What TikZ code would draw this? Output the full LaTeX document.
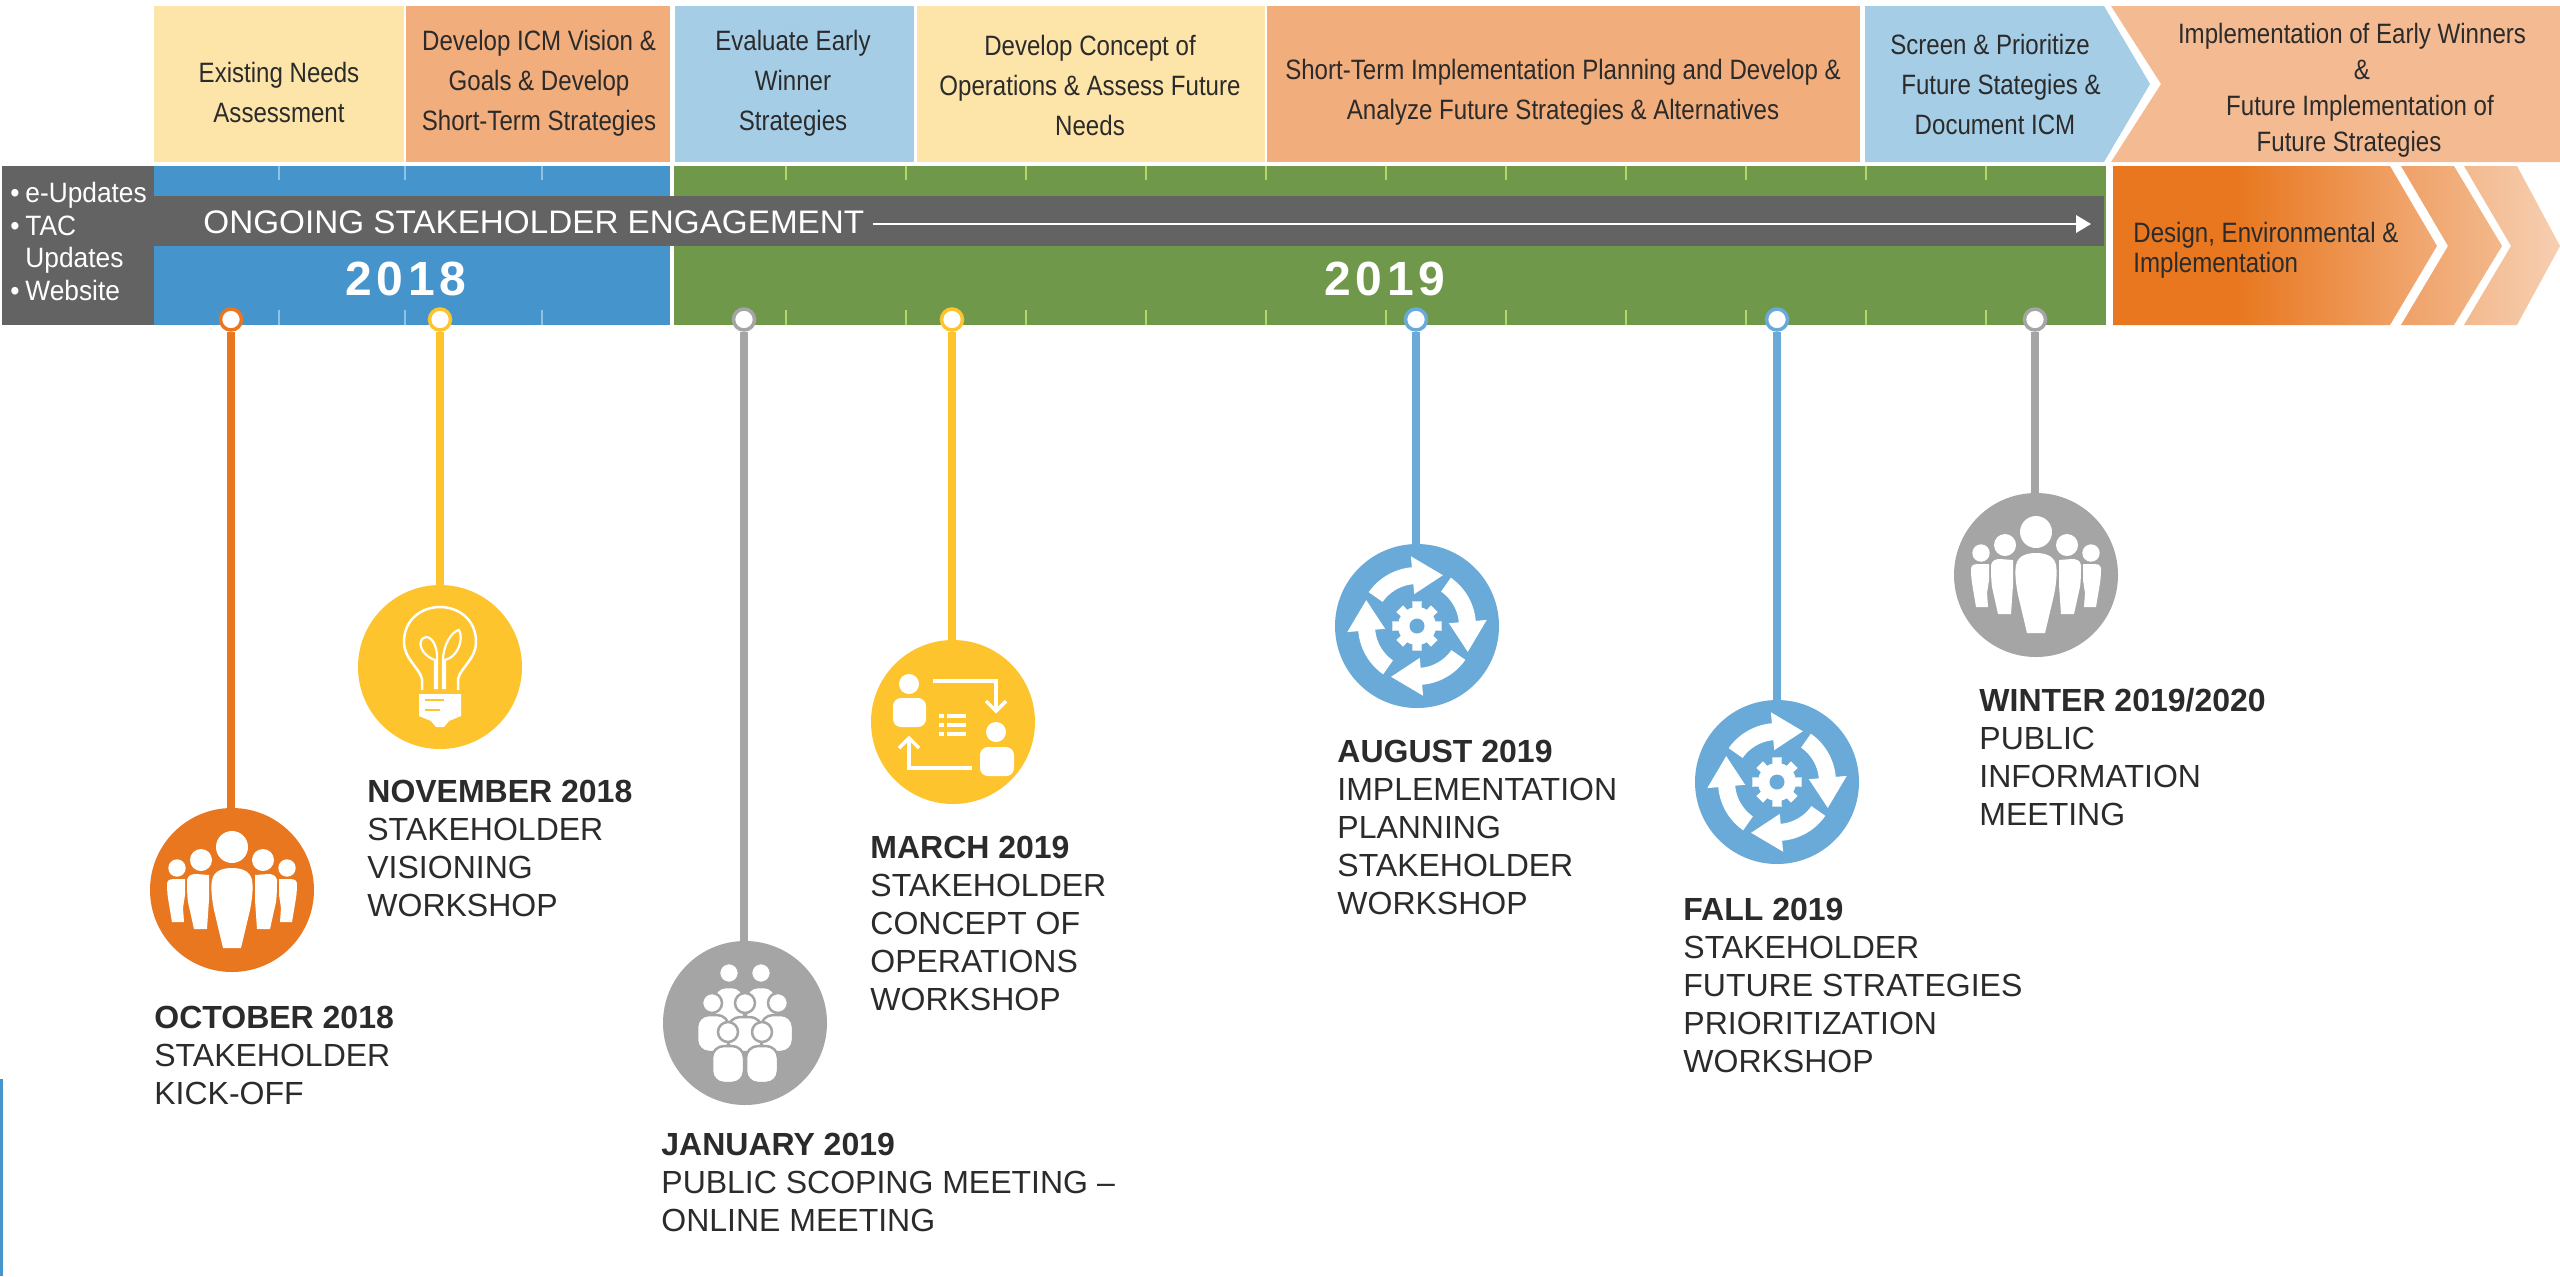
\documentclass[tikz,border=0pt]{standalone}
\usepackage{fontspec}
\setmainfont{Liberation Sans}
\newfontfamily\condfont[FakeStretch=0.86]{Liberation Sans}
\newfontfamily\listfont[FakeStretch=0.94]{Liberation Sans}
\newfontfamily\bandfont[FakeStretch=1.02]{Liberation Sans}
\newfontfamily\yearfont[LetterSpace=10]{Liberation Sans}
\definecolor{cCream}{HTML}{FDE5A9}
\definecolor{cPeach}{HTML}{F1AD7B}
\definecolor{cPeachL}{HTML}{F4BB92}
\definecolor{cSky}{HTML}{A6CDE6}
\definecolor{cBlue}{HTML}{4595CC}
\definecolor{cGreen}{HTML}{70984A}
\definecolor{cBand}{HTML}{636363}
\definecolor{cOrange}{HTML}{E8771F}
\definecolor{cYellow}{HTML}{FEC42D}
\definecolor{cGrey}{HTML}{A5A5A5}
\definecolor{cIconBlue}{HTML}{69AAD8}
\definecolor{cTickB}{HTML}{8FC3E6}
\definecolor{cTickG}{HTML}{B5D56A}
\definecolor{cTxt}{HTML}{2B2B2B}
\definecolor{cChA}{HTML}{F1AB76}
\definecolor{cChB}{HTML}{EFA168}
\definecolor{cChC}{HTML}{F3B88B}
\definecolor{cChD}{HTML}{F3B98E}
\definecolor{cChE}{HTML}{F6CFB2}
\pgfdeclarehorizontalshading{chevA}{100bp}{color(0bp)=(cOrange); color(44bp)=(cOrange); color(75bp)=(cChA); color(100bp)=(cChA)}
\pgfdeclarehorizontalshading{chevB}{100bp}{color(0bp)=(cChB); color(25bp)=(cChB); color(75bp)=(cChC); color(100bp)=(cChC)}
\pgfdeclarehorizontalshading{chevC}{100bp}{color(0bp)=(cChD); color(25bp)=(cChD); color(75bp)=(cChE); color(100bp)=(cChE)}
\tikzset{
  boxtext/.style={font=\condfont\fontsize{14}{20}\selectfont,text=cTxt,align=center,inner sep=0},
  evtext/.style={font=\fontsize{16}{19}\selectfont,text=cTxt,align=left,anchor=north west,inner sep=0},
  pin/.style={circle,draw=#1,fill=white,line width=1.75pt,minimum size=10.5pt,inner sep=0},
  iconbg/.style={circle,fill=#1,minimum size=82pt,inner sep=0},
  stem/.style={draw=#1,line width=4pt},
  tickB/.style={draw=cTickB,line width=.8pt},
  tickG/.style={draw=cTickG,line width=.8pt}
}
\newcommand\peopleside{%
  \fill[white] (-31,-30) circle[radius=11];
  \fill[white] (-38,39) -- (-44,12) .. controls (-45,5) and (-45,-5) .. (-45,-10) .. controls (-44,-15) and (-40,-16) .. (-36,-16) -- (-23,-15) -- (-23,10) -- (-25,39) -- cycle;
  \fill[white] (-55,-22) circle[radius=8.7];
  \fill[white] (-60,32) -- (-64,8) .. controls (-65,2) and (-65,-5) .. (-65,-7) .. controls (-64,-11) and (-60,-11) .. (-58,-11) -- (-47,-11) -- (-47,5) -- (-49,18) -- (-48,32) -- cycle;
}
\newcommand\peopleicon[1]{%
  \begin{scope}[shift={(#1.center)}]
    \fill[white] (0,-43) circle[radius=16];
    \fill[white] (-9,58) -- (-18,20) .. controls (-21,5) and (-21,-5) .. (-20,-10) .. controls (-18,-20) and (-8,-22) .. (0,-22) .. controls (8,-22) and (18,-20) .. (20,-10) .. controls (21,-5) and (21,5) .. (18,20) -- (9,58) -- cycle;
    \peopleside
    \begin{scope}[xscale=-1]\peopleside\end{scope}
  \end{scope}}
\newcommand\grpbody[4]{\filldraw[white,draw=cGrey,line width=1.25pt,rounded corners=6pt] (#1,#4) -- (#1,#3) -- (#2,#3) -- (#2,#4) -- cycle;}
\newcommand\grphead[2]{\filldraw[white,draw=cGrey,line width=1.25pt] (#1,#2) circle[radius=10];}
\newcommand\groupicon[1]{%
  \begin{scope}[shift={(#1.center)}]
    \grpbody{-31}{-1}{-36}{5}\grpbody{1}{31}{-36}{5}
    \grphead{-16}{-50}\grphead{16}{-50}
    \grpbody{-48}{-16}{-8}{29}\grpbody{16}{48}{-8}{29}\grpbody{-17}{17}{-6}{29}
    \grphead{-33}{-20}\grphead{33}{-20}\grphead{0}{-20}
    \fill[cGrey] (-50,29.6) rectangle (50,33);
    \grpbody{-33}{-1}{23}{60}\grpbody{1}{33}{23}{60}
    \grphead{-17}{9}\grphead{17}{9}
  \end{scope}}
\newcommand\bulbicon[1]{%
  \begin{scope}[shift={(#1.center)}]
    \draw[white,line width=1.25pt,line join=round] (-18,23) -- (-18,12) .. controls (-21,0) and (-36,-8) .. (-36,-25) .. controls (-36,-48) and (-18,-60) .. (0,-60) .. controls (18,-60) and (36,-48) .. (36,-25) .. controls (36,-8) and (21,0) .. (18,12) -- (18,23);
    \fill[white] (-21,27) -- (21,27) -- (21,49) -- (9,54) -- (4,60) -- (-4,60) -- (-9,54) -- (-21,49) -- cycle;
    \draw[cYellow,line width=1.25pt] (-15,33) -- (4,33) (-15,43) -- (0,43);
    \draw[white,line width=1.1pt] (-5,22) -- (-5,-7) .. controls (-20,-12) and (-24,-28) .. (-14,-30) .. controls (-6,-30) and (-2,-16) .. (-3,-7) -- (-3,22);
    \draw[white,line width=1.1pt] (3,22) -- (3,-7) .. controls (3,-22) and (12,-36) .. (19,-37) .. controls (24,-28) and (18,-10) .. (5,-7) -- (5,22);
  \end{scope}}
\newcommand\flowicon[1]{%
  \begin{scope}[shift={(#1.center)}]
    \fill[white] (-44,-38) circle[radius=10];
    \fill[white,rounded corners=4pt] (-60,5) -- (-60,-24) -- (-27,-24) -- (-27,5) -- cycle;
    \fill[white] (43,10) circle[radius=10];
    \fill[white,rounded corners=4pt] (27,54) -- (27,25) -- (61,25) -- (61,54) -- cycle;
    \draw[white,line width=1.75pt] (-20,-41) -- (43,-41) -- (43,-13);
    \draw[white,line width=1.75pt] (33,-21) -- (43,-11) -- (53,-21);
    \draw[white,line width=1.75pt] (19,46) -- (-44,46) -- (-44,18);
    \draw[white,line width=1.75pt] (-54,26) -- (-44,16) -- (-34,26);
    \foreach \yy in {-6,3,12}{\fill[white] (-14,\yy-1.7) rectangle (-9,\yy+1.7); \fill[white] (-6,\yy-1.7) rectangle (13,\yy+1.7);}
  \end{scope}}
\newcommand\cycleicon[1]{%
  \begin{scope}[shift={(#1.center)}]
    \foreach \aa in {0,90,180,270}{
      \pgfmathsetmacro\sa{215+\aa}\pgfmathsetmacro\ea{265+\aa}\pgfmathsetmacro\ta{297+\aa}
      \fill[white] plot[domain=\sa:\ea,samples=12] (\x:59) -- (\ea:70) -- (\ta:57) -- (\ea:32) -- plot[domain=\ea:\sa,samples=12] (\x:42) -- cycle;
    }
    \fill[white] (0,0) circle[radius=19];
    \foreach \aa in {0,45,...,315}{\fill[white] (\aa-15:17) -- (\aa-11:25) -- (\aa+11:25) -- (\aa+15:17) -- cycle;}
    \fill[cIconBlue] (0,0) circle[radius=7.5];
  \end{scope}}
\begin{document}
\begin{tikzpicture}[x=0.5pt,y=-0.5pt]
\useasboundingbox (0,0) rectangle (2560,1276);
\fill[white] (0,0) rectangle (2560,1276);
\fill[cBlue] (0,1079) rectangle (2.5,1276);
% top phase boxes
\fill[cCream] (154,6) rectangle (404,162);
\fill[cPeach] (406,6) rectangle (670,162);
\fill[cSky] (675,6) rectangle (914,162);
\fill[cCream] (917,6) rectangle (1265,162);
\fill[cPeach] (1267,6) rectangle (1860,162);
\fill[cSky] (1865,6) -- (2104,6) -- (2150,84) -- (2104,162) -- (1865,162) -- cycle;
\fill[cPeachL] (2111,6) -- (2560,6) -- (2560,162) -- (2111,162) -- (2161,84) -- cycle;
\node[boxtext] (t1) at (279,92) {Existing Needs\\Assessment};
\node[boxtext] (t2) at (539,83) {Develop ICM Vision \&\\Goals \& Develop\\Short-Term Strategies};
\node[boxtext] (t3) at (793,83) {Evaluate Early\\Winner\\Strategies};
\node[boxtext] (t4) at (1090,85) {Develop Concept of\\Operations \& Assess Future\\Needs};
\node[boxtext] (t5) at (1563,92) {Short-Term Implementation Planning and Develop \&\\Analyze Future Strategies \& Alternatives};
\node[boxtext] (t6) at (1995,84) {Screen \& Prioritize\hspace*{5pt}\\\hspace*{6pt}Future Stategies \&\\Document ICM};
\node[boxtext,font=\condfont\fontsize{14}{18}\selectfont] (t7) at (2355,90) {Implementation of Early Winners\hspace*{3pt}\\\hspace*{7pt}\&\\\hspace*{5pt}Future Implementation of\\Future Strategies\hspace*{6pt}};
% timeline bars
\fill[cBand] (2,166) rectangle (154,325);
\fill[cBlue] (154,166) rectangle (670,325);
\fill[cGreen] (674,166) rectangle (2106,325);
\foreach \tx in {279,405,542}{\draw[tickB] (\tx,166) -- (\tx,180) (\tx,310) -- (\tx,325);}
\foreach \tx in {786,906,...,1986}{\draw[tickG] (\tx,166) -- (\tx,180) (\tx,310) -- (\tx,325);}
\fill[cBand] (154,196) rectangle (2104,246);
\node[font=\bandfont\fontsize{16.3}{19}\selectfont,text=white,inner sep=0,anchor=base west] (eng) at (203,233) {ONGOING STAKEHOLDER ENGAGEMENT};
\coordinate (arrowend) at (2091,224);
\draw[white,line width=1pt] (eng.east |- arrowend) ++(8,0) -- (2078,224);
\fill[white] (2076,215) -- (arrowend) -- (2076,233) -- cycle;
\node[font=\yearfont\bfseries\fontsize{24}{28}\selectfont,text=white,inner sep=0] (y18) at (406,279) {2018};
\node[font=\yearfont\bfseries\fontsize{24}{28}\selectfont,text=white,inner sep=0] (y19) at (1385,279) {2019};
\node[font=\listfont\fontsize{14}{16.3}\selectfont,text=white,align=left,inner sep=0,anchor=west] (list) at (10,241.5) {\makebox[7.5pt][l]{•}e-Updates\\\makebox[7.5pt][l]{•}TAC\\\hspace*{7.5pt}Updates\\\makebox[7.5pt][l]{•}Website};
% chevrons
\shade[shading=chevA] (2113,166) -- (2390,166) -- (2437,246) -- (2390,325) -- (2113,325) -- cycle;
\shade[shading=chevB] (2401,166) -- (2454,166) -- (2502,246) -- (2454,325) -- (2401,325) -- (2448,246) -- cycle;
\shade[shading=chevC] (2464,166) -- (2517,166) -- (2560,246) -- (2517,325) -- (2464,325) -- (2511,246) -- cycle;
\node[font=\condfont\fontsize{14}{15}\selectfont,text=cTxt,align=left,inner sep=0,anchor=west] (design) at (2133,250) {Design, Environmental \&\\Implementation};
% icons
\node[iconbg=cOrange] (i1) at (232,890) {};
\node[iconbg=cYellow] (i2) at (440,667) {};
\node[iconbg=cGrey] (i3) at (745,1023) {};
\node[iconbg=cYellow] (i4) at (953,722) {};
\node[iconbg=cIconBlue] (i5) at (1417,626) {};
\node[iconbg=cIconBlue] (i6) at (1777,782) {};
\node[iconbg=cGrey] (i7) at (2036,575) {};
\node[pin=cOrange] (p1) at (231,319.5) {};
\node[pin=cYellow] (p2) at (440,319.5) {};
\node[pin=cGrey] (p3) at (744,319.5) {};
\node[pin=cYellow] (p4) at (952,319.5) {};
\node[pin=cIconBlue] (p5) at (1416,319.5) {};
\node[pin=cIconBlue] (p6) at (1777,319.5) {};
\node[pin=cGrey] (p7) at (2035,319.5) {};
\draw[stem=cOrange] (p1) -- (p1 |- i1.north);
\draw[stem=cYellow] (p2) -- (i2);
\draw[stem=cGrey] (p3) -- (p3 |- i3.north);
\draw[stem=cYellow] (p4) -- (p4 |- i4.north);
\draw[stem=cIconBlue] (p5) -- (p5 |- i5.north);
\draw[stem=cIconBlue] (p6) -- (i6);
\draw[stem=cGrey] (p7) -- (p7 |- i7.north);
\peopleicon{i1}
\bulbicon{i2}
\groupicon{i3}
\flowicon{i4}
\cycleicon{i5}
\cycleicon{i6}
\peopleicon{i7}
% event labels
\node[evtext] (e1) at (154,1005.5) {\textbf{OCTOBER 2018}\\STAKEHOLDER\\KICK-OFF};
\node[evtext] (e2) at (367,779.5) {\textbf{NOVEMBER 2018}\\STAKEHOLDER\\VISIONING\\WORKSHOP};
\node[evtext] (e3) at (661,1132.5) {\textbf{JANUARY 2019}\\PUBLIC SCOPING MEETING –\\ONLINE MEETING};
\node[evtext] (e4) at (870,835.5) {\textbf{MARCH 2019}\\STAKEHOLDER\\CONCEPT OF\\OPERATIONS\\WORKSHOP};
\node[evtext] (e5) at (1337,739.5) {\textbf{AUGUST 2019}\\IMPLEMENTATION\\PLANNING\\STAKEHOLDER\\WORKSHOP};
\node[evtext] (e6) at (1683,897.5) {\textbf{FALL 2019}\\STAKEHOLDER\\FUTURE STRATEGIES\\PRIORITIZATION\\WORKSHOP};
\node[evtext] (e7) at (1979,687.5) {\textbf{WINTER 2019/2020}\\PUBLIC\\INFORMATION\\MEETING};
\end{tikzpicture}
\end{document}
